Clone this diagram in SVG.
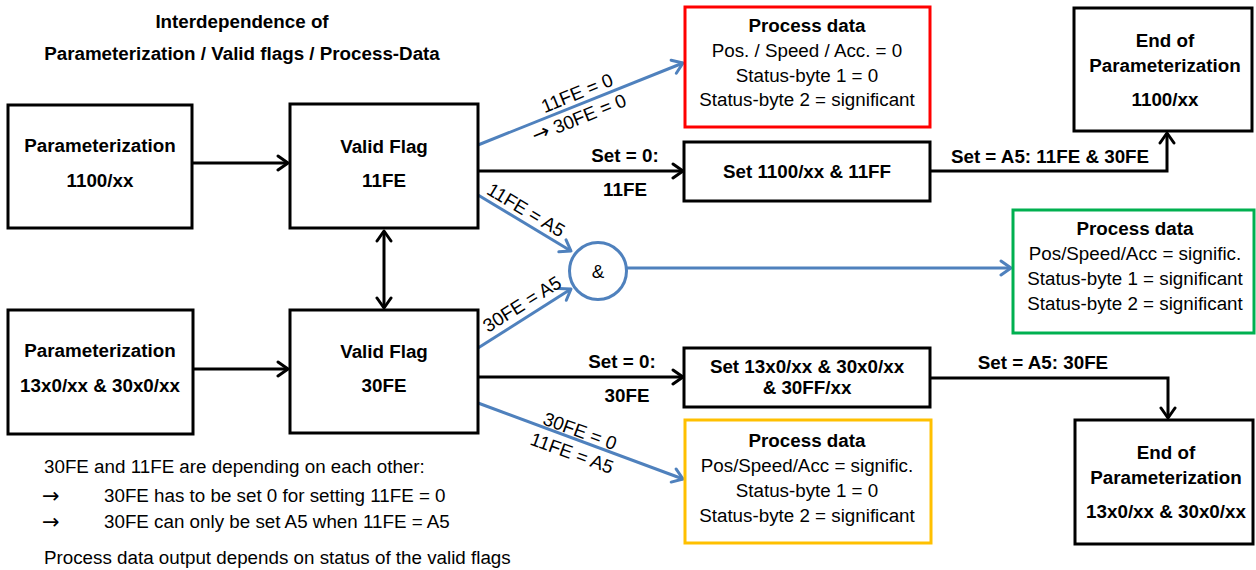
<svg xmlns="http://www.w3.org/2000/svg" width="1256" height="570" viewBox="0 0 1256 570">
  <style>
    text { font-family: "Liberation Sans", Arial, sans-serif; font-size: 18.8px; fill: #000; }
    .b { font-weight: bold; }
    .c { text-anchor: middle; }
    .arw { font-family: "DejaVu Sans", sans-serif; font-size: 21px; }
    .box { fill: #fff; stroke: #000; stroke-width: 3; }
    .red { fill: #fff; stroke: #ff0000; stroke-width: 3; }
    .green { fill: #fff; stroke: #00b050; stroke-width: 3; }
    .yellow { fill: #fff; stroke: #ffc000; stroke-width: 3; }
    .k { fill: none; stroke: #000; stroke-width: 3; }
    .bl { fill: none; stroke: #4f81bd; stroke-width: 3; }
  </style>
  <defs>
    <marker id="ak" markerWidth="16" markerHeight="18" refX="13" refY="9" orient="auto-start-reverse" markerUnits="userSpaceOnUse">
      <path d="M3,2 L13,9 L3,16" fill="none" stroke="#000" stroke-width="3" stroke-linejoin="round" stroke-linecap="round"/>
    </marker>
    <marker id="ab" markerWidth="16" markerHeight="18" refX="13" refY="9" orient="auto" markerUnits="userSpaceOnUse">
      <path d="M3,2 L13,9 L3,16" fill="none" stroke="#4f81bd" stroke-width="3" stroke-linejoin="round" stroke-linecap="round"/>
    </marker>
  </defs>

  <!-- heading -->
  <g id="title">
    <text class="b c" x="242" y="28">Interdependence of</text>
    <text class="b c" x="242" y="60">Parameterization / Valid flags / Process-Data</text>
  </g>

  <!-- connectors -->
  <g id="connectors">
    <path class="k" d="M192,163 L288,163" marker-end="url(#ak)"/>
    <path class="k" d="M193,369 L288,369" marker-end="url(#ak)"/>
    <path class="k" d="M384,231 L384,308" marker-start="url(#ak)" marker-end="url(#ak)"/>
    <path class="k" d="M478,171 L683,171" marker-end="url(#ak)"/>
    <path class="k" d="M478,377 L683,377" marker-end="url(#ak)"/>
    <path class="k" d="M930,171 L1167,171 L1167,133" marker-end="url(#ak)"/>
    <path class="k" d="M930,378 L1168,378 L1168,418" marker-end="url(#ak)"/>

    <path class="bl" d="M478,145 L683,63" marker-end="url(#ab)"/>
    <path class="bl" d="M478,195 L571,251" marker-end="url(#ab)"/>
    <path class="bl" d="M478,348 L571,289" marker-end="url(#ab)"/>
    <path class="bl" d="M478,403 L683,479" marker-end="url(#ab)"/>
    <path class="bl" d="M627,268 L1011,268" marker-end="url(#ab)"/>

    <text class="b c" x="625" y="162">Set = 0:</text>
    <text class="b c" x="625" y="196">11FE</text>
    <text class="b c" x="622" y="368">Set = 0:</text>
    <text class="b c" x="627" y="402">30FE</text>
    <text class="b c" x="1050" y="163">Set = A5: 11FE &amp; 30FE</text>
    <text class="b c" x="1043" y="369">Set = A5: 30FE</text>

    <text class="c" transform="translate(577,93) rotate(-22)" y="6.5">11FE = 0</text>
    <text class="c" transform="translate(579,118) rotate(-22)" y="6.5"><tspan class="arw">→</tspan> 30FE = 0</text>
    <text class="c" transform="translate(526,210) rotate(31)" y="6.5">11FE = A5</text>
    <text class="c" transform="translate(522,304) rotate(-32)" y="6.5">30FE = A5</text>
    <text class="c" transform="translate(580,431) rotate(20)" y="6.5">30FE = 0</text>
    <text class="c" transform="translate(572,453) rotate(20)" y="6.5">11FE = A5</text>
  </g>

  <g id="param-1100">
    <rect class="box" x="8" y="105" width="184" height="123"/>
    <text class="b c" x="100" y="152">Parameterization</text>
    <text class="b c" x="100" y="187">1100/xx</text>
  </g>

  <g id="param-13x0">
    <rect class="box" x="8" y="310" width="185" height="124"/>
    <text class="b c" x="100" y="357">Parameterization</text>
    <text class="b c" x="100" y="392">13x0/xx &amp; 30x0/xx</text>
  </g>

  <g id="valid-11fe">
    <rect class="box" x="290" y="104" width="188" height="124"/>
    <text class="b c" x="384" y="153">Valid Flag</text>
    <text class="b c" x="384" y="187">11FE</text>
  </g>

  <g id="valid-30fe">
    <rect class="box" x="290" y="310" width="188" height="123"/>
    <text class="b c" x="384" y="358">Valid Flag</text>
    <text class="b c" x="384" y="392">30FE</text>
  </g>

  <g id="and-gate">
    <circle cx="598" cy="271" r="28.5" fill="#fff" stroke="#4f81bd" stroke-width="3"/>
    <text class="c" x="598" y="278">&amp;</text>
  </g>

  <g id="pd-zero">
    <rect class="red" x="685" y="7" width="245" height="120"/>
    <text class="b c" x="807" y="32">Process data</text>
    <text class="c" x="807" y="57">Pos. / Speed / Acc. = 0</text>
    <text class="c" x="807" y="82">Status-byte 1 = 0</text>
    <text class="c" x="807" y="106">Status-byte 2 = significant</text>
  </g>

  <g id="set-1100">
    <rect class="box" x="684" y="142" width="246" height="59"/>
    <text class="b c" x="807" y="178">Set 1100/xx &amp; 11FF</text>
  </g>

  <g id="end-1100">
    <rect class="box" x="1074" y="8" width="178" height="123"/>
    <text class="b c" x="1165" y="47">End of</text>
    <text class="b c" x="1165" y="72">Parameterization</text>
    <text class="b c" x="1165" y="106">1100/xx</text>
  </g>

  <g id="pd-significant">
    <rect class="green" x="1013" y="210" width="241" height="123"/>
    <text class="b c" x="1135" y="235">Process data</text>
    <text class="c" x="1135" y="260">Pos/Speed/Acc = signific.</text>
    <text class="c" x="1135" y="285">Status-byte 1 = significant</text>
    <text class="c" x="1135" y="310">Status-byte 2 = significant</text>
  </g>

  <g id="set-13x0">
    <rect class="box" x="684" y="348" width="246" height="59"/>
    <text class="b c" x="807" y="373">Set 13x0/xx &amp; 30x0/xx</text>
    <text class="b c" x="807" y="394">&amp; 30FF/xx</text>
  </g>

  <g id="pd-partial">
    <rect class="yellow" x="685" y="420" width="246" height="123"/>
    <text class="b c" x="807" y="447">Process data</text>
    <text class="c" x="807" y="472">Pos/Speed/Acc = signific.</text>
    <text class="c" x="807" y="497">Status-byte 1 = 0</text>
    <text class="c" x="807" y="522">Status-byte 2 = significant</text>
  </g>

  <g id="end-13x0">
    <rect class="box" x="1075" y="420" width="178" height="124"/>
    <text class="b c" x="1166" y="459">End of</text>
    <text class="b c" x="1166" y="484">Parameterization</text>
    <text class="b c" x="1166" y="518">13x0/xx &amp; 30x0/xx</text>
  </g>

  <g id="notes">
    <text x="44" y="473">30FE and 11FE are depending on each other:</text>
    <text class="arw" x="42" y="503">→</text>
    <text x="104" y="502">30FE has to be set 0 for setting 11FE = 0</text>
    <text class="arw" x="42" y="529">→</text>
    <text x="104" y="528">30FE can only be set A5 when 11FE = A5</text>
    <text x="44" y="564">Process data output depends on status of the valid flags</text>
  </g>
</svg>
